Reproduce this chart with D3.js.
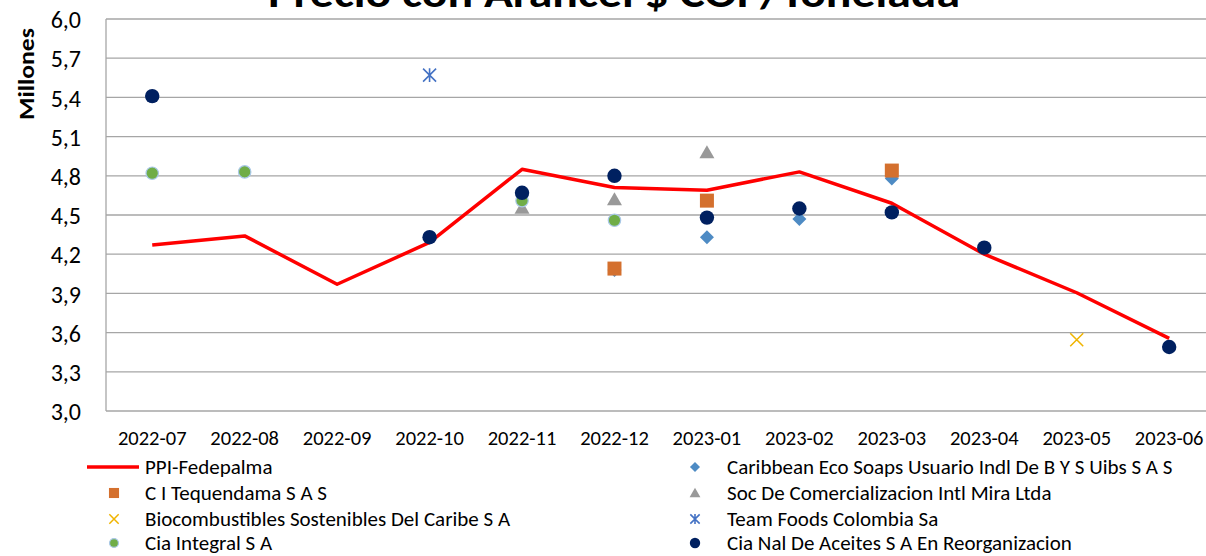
<!DOCTYPE html>
<html><head><meta charset="utf-8">
<script src="https://cdn.jsdelivr.net/npm/d3@7"></script>
<style>
body{margin:0;background:#fff;}
svg{display:block;font-family:Carlito,Calibri,Lato,"Open Sans",sans-serif;}
</style></head>
<body><svg id="c" width="1206" height="556"></svg>
<script>
const months = ["2022-07","2022-08","2022-09","2022-10","2022-11","2022-12","2023-01","2023-02","2023-03","2023-04","2023-05","2023-06"];
const yTicks = [3.0,3.3,3.6,3.9,4.2,4.5,4.8,5.1,5.4,5.7,6.0];
const ppi = [4.27,4.34,3.97,4.29,4.85,4.71,4.69,4.83,4.59,4.20,3.905,3.556];
const tequendama = [null,null,null,null,null,4.09,4.61,null,4.84,null,null,null];
const bioCaribe = [null,null,null,null,null,null,null,null,null,null,3.546,null];
const ciaIntegral = [4.82,4.83,null,null,4.61,4.46,null,null,null,null,null,null];
const caribbean = [null,null,null,null,null,4.08,4.33,4.47,4.78,null,null,null];
const socMira = [null,null,null,null,4.555,4.62,4.98,null,null,null,null,null];
const teamFoods = [null,null,null,5.57,null,null,null,null,null,null,null,null];
const ciaNal = [5.41,null,null,4.33,4.67,4.80,4.48,4.55,4.52,4.25,null,3.49];

const svg = d3.select("#c");
const plotLeft = 106, plotTop = 19, plotBottom = 411, bandW = 92.45;
const x = d3.scaleBand().domain(months).range([plotLeft, plotLeft + bandW*12]);
const y = d3.scaleLinear().domain([3,6]).range([plotBottom, plotTop]);
const cx = m => x(m) + x.bandwidth()/2;

// title
svg.append("text").attr("x",614).attr("y",7).attr("text-anchor","middle")
  .attr("font-size",40).attr("font-weight","bold").attr("fill","#000")
  .attr("textLength",692).attr("lengthAdjust","spacingAndGlyphs")
  .text("Precio con Arancel $ COP/Tonelada");

// gridlines
svg.append("g").selectAll("line").data(yTicks).join("line")
  .attr("x1",plotLeft).attr("x2",1206).attr("y1",d=>y(d)).attr("y2",d=>y(d))
  .attr("stroke","#a6a6a6").attr("stroke-width",1.3);
svg.append("line").attr("x1",plotLeft).attr("x2",plotLeft).attr("y1",plotTop).attr("y2",plotBottom)
  .attr("stroke","#a6a6a6").attr("stroke-width",1.3);

// y axis labels
const yAxis = d3.axisLeft(y).tickValues(yTicks).tickSize(0).tickPadding(0)
  .tickFormat(d=>d3.format(".1f")(d).replace(".",","));
const ga = svg.append("g").attr("transform",`translate(81,0)`).call(yAxis);
ga.select(".domain").remove();
ga.selectAll("text").attr("font-size",24).attr("fill","#000").attr("font-family","Carlito,Calibri,Lato,sans-serif").attr("dy","0.36em");

svg.append("text").attr("transform","translate(34,74) rotate(-90)").attr("text-anchor","middle")
  .attr("font-size",22).attr("font-weight","bold").attr("textLength",92).attr("lengthAdjust","spacingAndGlyphs").text("Millones");

// x axis labels
const xAxis = d3.axisBottom(x).tickSize(0).tickPadding(0);
const gx = svg.append("g").attr("transform",`translate(0,${plotBottom})`).call(xAxis);
gx.select(".domain").remove();
gx.selectAll("text").attr("font-size",20.5).attr("fill","#000").attr("font-family","Carlito,Calibri,Lato,sans-serif").attr("y",27).attr("dy","0.35em");

// PPI line
svg.append("path").datum(ppi.map((v,i)=>[months[i],v]))
  .attr("d", d3.line().x(d=>cx(d[0])).y(d=>y(d[1])))
  .attr("fill","none").attr("stroke","#ff0000").attr("stroke-width",3.5).attr("stroke-linejoin","round");

const pts = arr => arr.map((v,i)=>({m:months[i],v})).filter(d=>d.v!==null);

function drawSeries(arr, draw){
  svg.append("g").selectAll("g").data(pts(arr)).join("g")
    .attr("transform",d=>`translate(${cx(d.m)},${y(d.v)})`).each(function(){draw(d3.select(this));});
}
const markers = {
  caribbean: (g,s=1)=>{const r=7*s; g.append("path").attr("d",`M0,${-r}L${r},0L0,${r}L${-r},0Z`).attr("fill","#4e8bc4");},
  tequendama:(g,s=1)=>g.append("rect").attr("x",-7*s).attr("y",-7*s).attr("width",14*s).attr("height",14*s).attr("fill","#d4702e"),
  socMira:(g,s=1)=>{const r=7.5*s; g.append("path").attr("d",`M0,${-r*0.95}L${r},${r*0.8}L${-r},${r*0.8}Z`).attr("fill","#999999");},
  bioCaribe:(g,s=1)=>{const r=6.5*s; g.append("path").attr("d",`M${-r},${-r}L${r},${r}M${-r},${r}L${r},${-r}`).attr("stroke","#f0b400").attr("stroke-width",1.5);},
  teamFoods:(g,s=1)=>{const r=6.5*s; g.append("path").attr("d",`M${-r},${-r}L${r},${r}M${-r},${r}L${r},${-r}M0,${-r*1.05}L0,${r*1.05}`).attr("stroke","#4472c4").attr("stroke-width",1.6);},
  ciaIntegral:(g,s=1)=>g.append("circle").attr("r",6.2*s).attr("fill","#70ad47").attr("stroke","#a9c8e8").attr("stroke-width",1.2),
  ciaNal:(g,s=1)=>g.append("circle").attr("r",7.2*s).attr("fill","#002060")
};

drawSeries(caribbean, markers.caribbean);
drawSeries(tequendama, markers.tequendama);
drawSeries(socMira, markers.socMira);
drawSeries(bioCaribe, markers.bioCaribe);
drawSeries(teamFoods, markers.teamFoods);
drawSeries(ciaIntegral, markers.ciaIntegral);
drawSeries(ciaNal, markers.ciaNal);

// legend
const legendLeft = [
  {name:"PPI-Fedepalma", key:"line"},
  {name:"C I Tequendama S A S", key:"tequendama"},
  {name:"Biocombustibles Sostenibles Del Caribe S A", key:"bioCaribe"},
  {name:"Cia Integral S A", key:"ciaIntegral"}
];
const legendRight = [
  {name:"Caribbean Eco Soaps Usuario Indl De B Y S Uibs S A S", key:"caribbean"},
  {name:"Soc De Comercializacion Intl Mira Ltda", key:"socMira"},
  {name:"Team Foods Colombia Sa", key:"teamFoods"},
  {name:"Cia Nal De Aceites S A En Reorganizacion", key:"ciaNal"}
];
const rowY = [467,493,519,543];
function legend(items, symX, textX){
  items.forEach((it,i)=>{
    const g = svg.append("g").attr("transform",`translate(${symX},${rowY[i]})`);
    if(it.key==="line") g.append("line").attr("x1",-27).attr("x2",25).attr("stroke","#ff0000").attr("stroke-width",3.5);
    else markers[it.key](g,0.72);
    svg.append("text").attr("x",textX).attr("y",rowY[i]).attr("dy","0.35em").attr("font-size",21).attr("fill","#000").text(it.name);
  });
}
legend(legendLeft, 114, 145);
legend(legendRight, 695, 727);
</script></body></html>
